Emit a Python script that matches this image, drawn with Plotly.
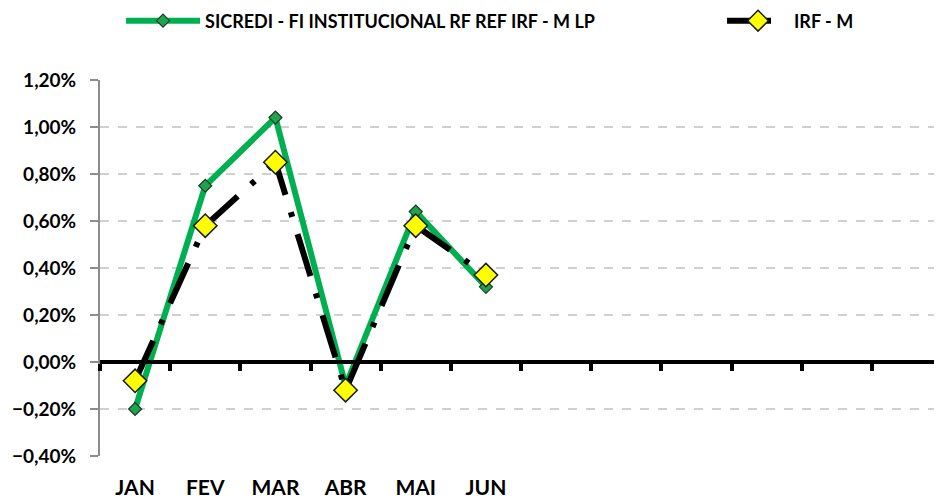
import plotly.graph_objects as go

# monthly returns (%)
months = ["JAN", "FEV", "MAR", "ABR", "MAI", "JUN"]
fund_name = "SICREDI - FI INSTITUCIONAL RF REF IRF - M LP"
fund_ret = [-0.20, 0.75, 1.04, -0.10, 0.64, 0.32]
bench_name = "IRF - M"
bench_ret = [-0.08, 0.58, 0.85, -0.12, 0.58, 0.37]

n_slots = 12  # axis is laid out for a full year
FONT = "Lato"

fig = go.Figure()

fig.add_trace(
    go.Scatter(
        x=months,
        y=[v / 100 for v in fund_ret],
        name=fund_name,
        mode="lines+markers",
        line=dict(color="#00b050", width=6),
        marker=dict(symbol="diamond", size=10, color="#1fa34f",
                    line=dict(color="#1a3a22", width=1.2)),
        legend="legend",
    )
)
fig.add_trace(
    go.Scatter(
        x=months,
        y=[v / 100 for v in bench_ret],
        name=bench_name,
        mode="lines+markers",
        line=dict(color="black", width=6, dash="44px,18px,5px,18px"),
        marker=dict(symbol="diamond", size=18, color="#ffff00",
                    line=dict(color="#1a1a1a", width=1.5)),
        legend="legend2",
    )
)

# empty trace so the zero-crossing axis gets drawn
fig.add_trace(go.Scatter(x=[], y=[], xaxis="x2", showlegend=False, hoverinfo="skip"))

# page body adds an 8px offset, margins below account for it
fig.update_layout(
    width=942,
    height=500,
    paper_bgcolor="white",
    plot_bgcolor="white",
    separators=",.",
    margin=dict(l=92, r=8, t=72, b=52, autoexpand=False),
    font=dict(family=FONT, color="black"),
    showlegend=True,
    legend=dict(
        orientation="h",
        xref="container", yref="container",
        x=0.12, y=0.974, xanchor="left", yanchor="middle",
        font=dict(size=18, family=FONT, weight="bold"),
        itemwidth=74,
        bgcolor="rgba(0,0,0,0)",
    ),
    legend2=dict(
        orientation="h",
        xref="container", yref="container",
        x=0.758, y=0.974, xanchor="left", yanchor="middle",
        font=dict(size=18, family=FONT, weight="bold"),
        itemwidth=62,
        bgcolor="rgba(0,0,0,0)",
    ),
    xaxis=dict(
        type="category",
        categoryorder="array",
        categoryarray=months,
        range=[-0.5, n_slots - 0.5],
        showline=False,
        showgrid=False,
        zeroline=False,
        automargin=False,
        ticks="outside",
        ticklen=13,
        tickcolor="rgba(0,0,0,0)",
        tickfont=dict(size=21, family=FONT, weight="bold"),
    ),
    xaxis2=dict(
        type="linear",
        overlaying="x",
        anchor="free",
        position=0.25,
        range=[-0.5, n_slots - 0.5],
        tick0=-0.5,
        dtick=1,
        showline=True,
        linecolor="black",
        linewidth=4,
        ticks="outside",
        ticklen=7,
        tickwidth=4,
        tickcolor="black",
        showticklabels=False,
        showgrid=False,
        zeroline=False,
        automargin=False,
    ),
    yaxis=dict(
        range=[-0.004, 0.012],
        dtick=0.002,
        tickformat=".2%",
        showline=True,
        linecolor="#8c8c8c",
        linewidth=2,
        ticks="outside",
        ticklen=8,
        tickcolor="#8c8c8c",
        tickwidth=2,
        showgrid=True,
        gridcolor="#d0d0d0",
        gridwidth=1.5,
        griddash="dash",
        zeroline=False,
        automargin=False,
        tickfont=dict(size=19, family=FONT, weight="bold"),
        ticklabelstandoff=10,
    ),
)

fig.write_html("out.html")
